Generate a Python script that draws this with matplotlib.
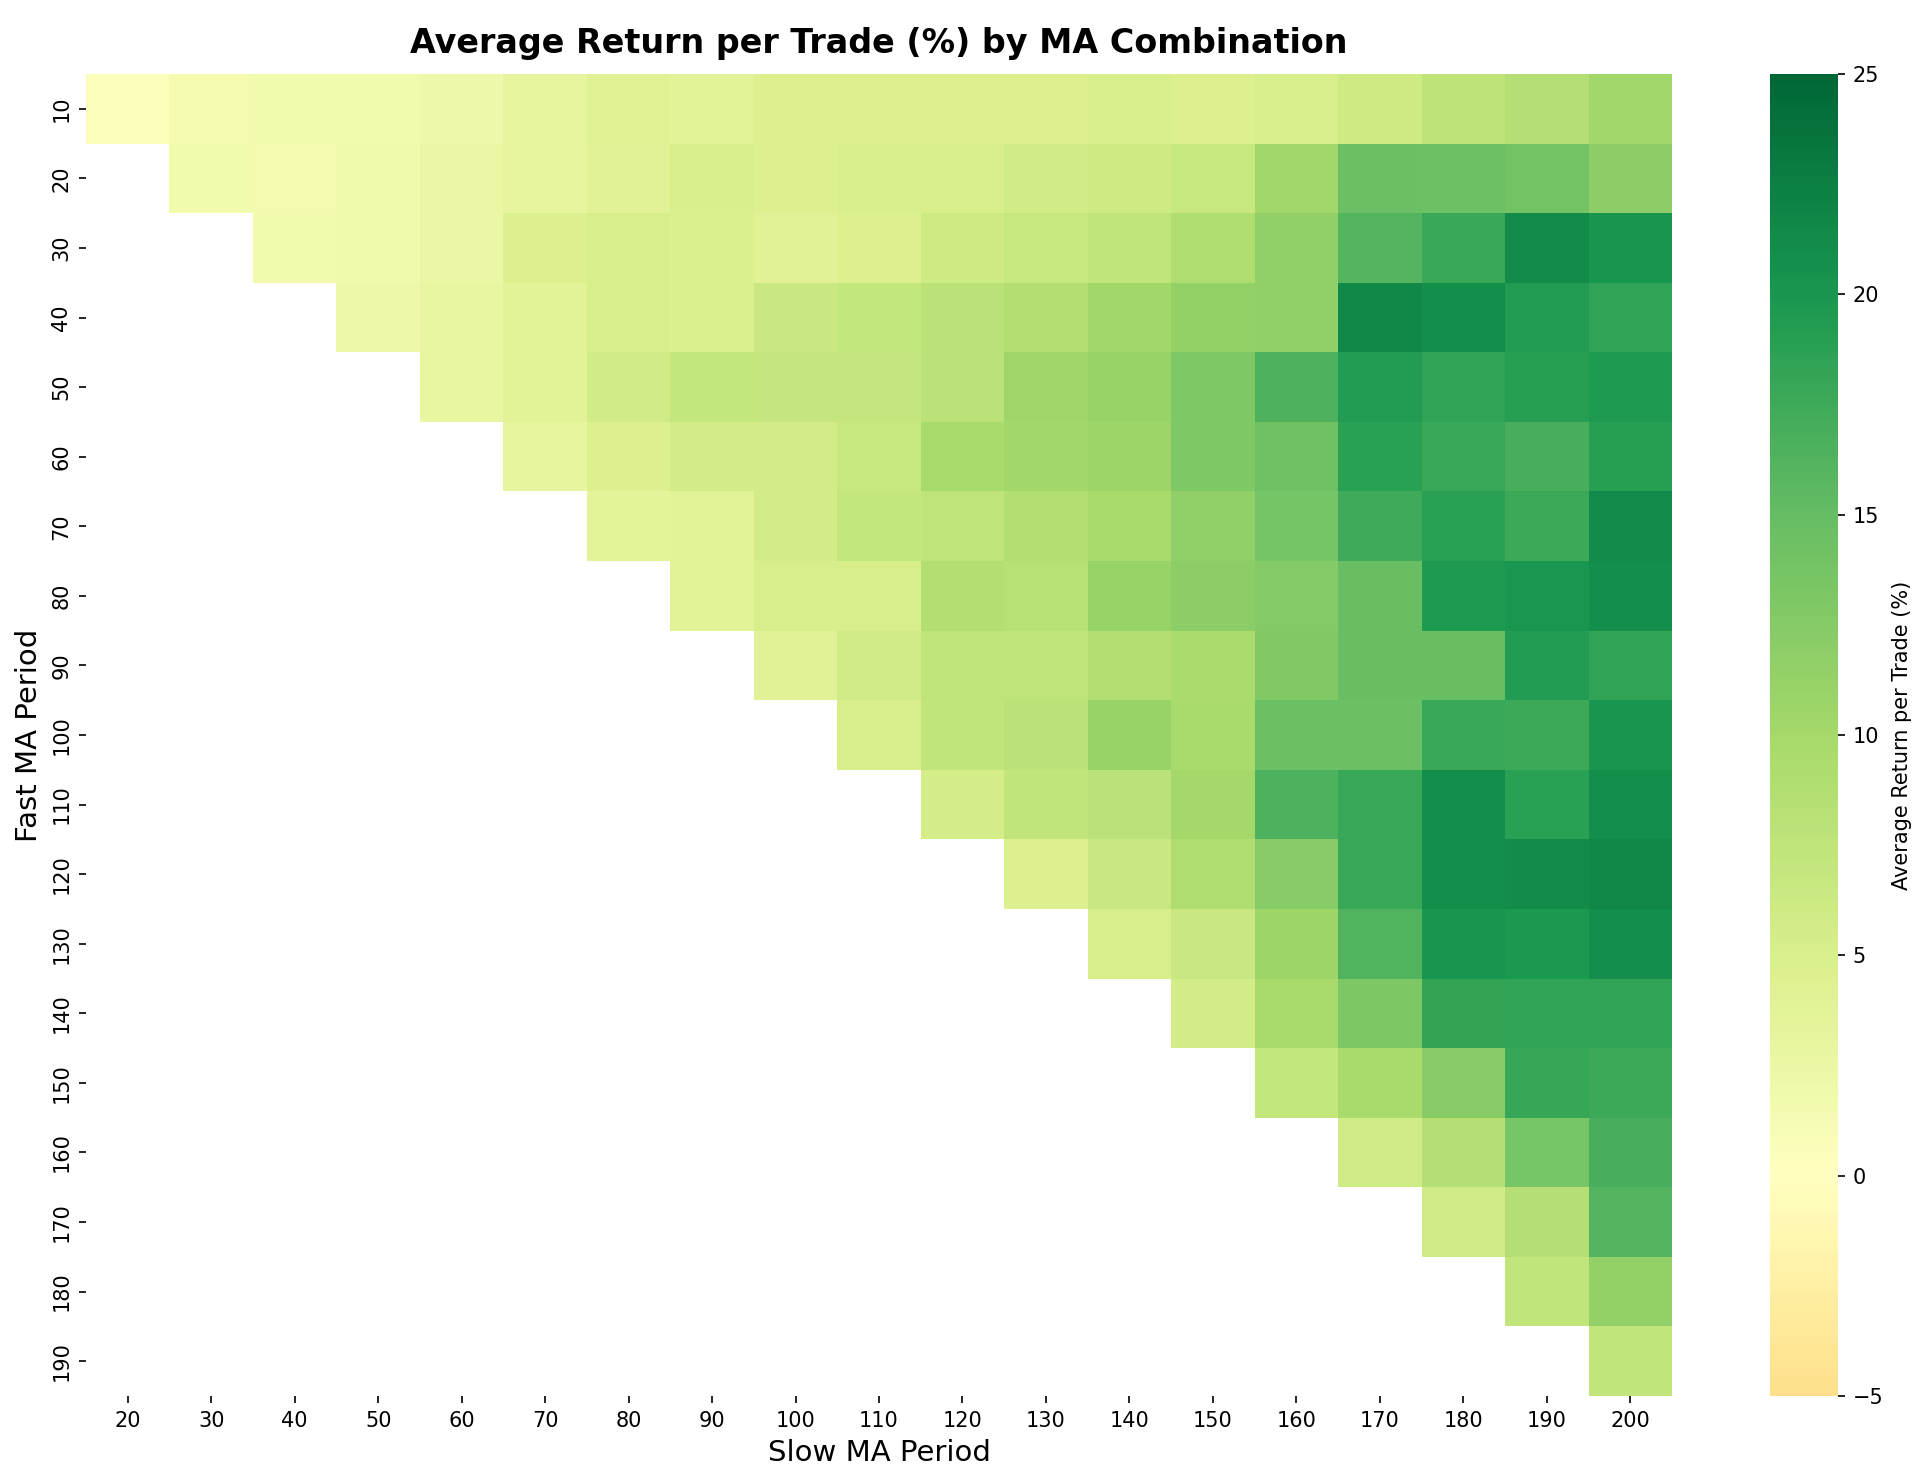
import numpy as np
import pandas as pd
import matplotlib
matplotlib.use("Agg")
import matplotlib.pyplot as plt
import seaborn as sns

fast_periods = [10, 20, 30, 40, 50, 60, 70, 80, 90, 100, 110, 120, 130, 140, 150, 160, 170, 180, 190]
slow_periods = [20, 30, 40, 50, 60, 70, 80, 90, 100, 110, 120, 130, 140, 150, 160, 170, 180, 190, 200]

# Average return per trade (%), one list per fast MA (slow periods > fast only)
ret_fast_10 = [0.5, 1.45, 1.6, 1.7, 2.1, 3.3, 4.2, 3.8, 4.7, 4.6, 4.6, 4.6, 5.0, 4.5, 5.1, 6.2, 7.7, 8.5, 10.3]
ret_fast_20 = [1.6, 1.45, 2.0, 2.4, 3.3, 4.1, 5.0, 4.6, 5.1, 5.3, 5.8, 6.1, 6.7, 10.3, 14.5, 14.4, 14.1, 12.0]
ret_fast_30 = [1.6, 2.0, 2.4, 4.6, 5.3, 4.9, 4.1, 4.6, 6.1, 6.7, 7.6, 9.1, 11.7, 16.1, 17.8, 21.1, 20.3]
ret_fast_40 = [2.2, 2.8, 3.8, 5.3, 4.8, 6.6, 7.1, 7.8, 8.8, 10.3, 11.3, 11.6, 21.5, 21.0, 19.3, 18.5]
ret_fast_50 = [2.8, 3.8, 5.7, 7.1, 6.9, 6.9, 8.0, 10.5, 11.0, 13.0, 16.4, 19.4, 18.5, 19.1, 19.7]
ret_fast_60 = [3.0, 4.6, 5.6, 5.6, 6.8, 9.7, 10.2, 10.6, 13.0, 14.2, 18.9, 17.9, 16.8, 19.0]
ret_fast_70 = [3.6, 3.9, 5.6, 7.1, 7.5, 8.8, 9.7, 11.6, 13.8, 17.4, 18.8, 17.6, 21.4]
ret_fast_80 = [3.9, 5.1, 5.2, 8.8, 8.3, 11.1, 12.0, 12.5, 14.8, 19.7, 20.0, 21.0]
ret_fast_90 = [4.1, 5.7, 7.5, 7.5, 8.8, 9.5, 12.9, 14.7, 14.8, 19.3, 18.5]
ret_fast_100 = [5.2, 7.3, 8.0, 11.1, 9.7, 14.5, 14.6, 17.9, 17.7, 20.3]
ret_fast_110 = [5.4, 7.2, 7.8, 10.0, 16.5, 17.8, 21.0, 18.9, 21.0]
ret_fast_120 = [4.6, 6.5, 9.1, 12.2, 17.8, 21.0, 21.1, 21.5]
ret_fast_130 = [5.1, 6.6, 10.7, 16.3, 20.2, 19.8, 21.0]
ret_fast_140 = [5.6, 9.9, 13.1, 18.1, 18.4, 18.5]
ret_fast_150 = [7.1, 9.7, 12.3, 18.0, 17.6]
ret_fast_160 = [6.0, 8.5, 13.6, 16.8]
ret_fast_170 = [6.0, 8.5, 16.2]
ret_fast_180 = [7.4, 11.4]
ret_fast_190 = [7.3]

rows = [ret_fast_10, ret_fast_20, ret_fast_30, ret_fast_40, ret_fast_50, ret_fast_60,
        ret_fast_70, ret_fast_80, ret_fast_90, ret_fast_100, ret_fast_110, ret_fast_120,
        ret_fast_130, ret_fast_140, ret_fast_150, ret_fast_160, ret_fast_170, ret_fast_180,
        ret_fast_190]

mat = np.full((len(fast_periods), len(slow_periods)), np.nan)
for i, (f, vals) in enumerate(zip(fast_periods, rows)):
    valid = [j for j, s in enumerate(slow_periods) if s > f]
    for j, v in zip(valid, vals):
        mat[i, j] = v

df = pd.DataFrame(mat, index=fast_periods, columns=slow_periods)

W, H, DPI = 1925, 1483, 150
fig = plt.figure(figsize=(W / DPI, H / DPI), dpi=DPI)
ax = fig.add_axes([86 / W, 1 - 1396 / H, (1672 - 86) / W, (1396 - 74) / H])
cax = fig.add_axes([1770 / W, 1 - 1396 / H, 68 / W, (1396 - 74) / H])

sns.heatmap(df, ax=ax, cbar_ax=cax, cmap="RdYlGn", center=0, vmin=-5, vmax=25,
            mask=df.isna(), cbar_kws={"label": "Average Return per Trade (%)"})

ax.set_xlabel("Slow MA Period", fontsize=14)
ax.set_ylabel("Fast MA Period", fontsize=14)
fig.suptitle("Average Return per Trade (%) by MA Combination", fontsize=16,
             fontweight="bold", y=0.982, x=(86 + 1672) / 2 / W)
cax.set_yticks([-5, 0, 5, 10, 15, 20, 25])

fig.savefig("out.png", dpi=DPI)
